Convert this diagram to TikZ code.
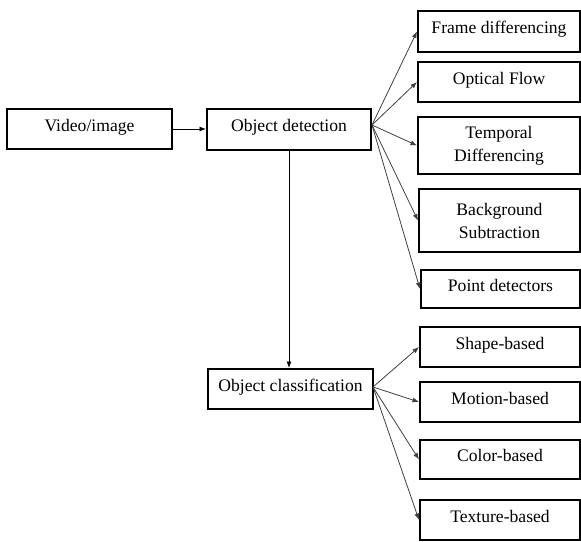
\documentclass[tikz,border=0pt]{standalone}
\usepackage{fontspec}
\setmainfont{Liberation Serif}
\usetikzlibrary{arrows.meta,calc}
\begin{document}
\begin{tikzpicture}[x=1pt,y=-1pt,
  box/.style={draw=black,line width=2pt,inner sep=0pt,align=center,
    font=\fontsize{17.6}{23}\selectfont},
  one/.style={text depth=8pt},
  conn/.style={draw=black!75,line width=0.8pt,-{Latex[length=6.5pt,width=5pt]}}]
\useasboundingbox (0,0) rectangle (581,541);
\node[box,one,minimum width=165pt,minimum height=40pt] (vid) at (89.5,129) {Video/image};
\node[box,one,minimum width=164pt,minimum height=41pt] (det) at (289,129.5) {Object detection};
\node[box,one,minimum width=165pt,minimum height=40pt] (cls) at (290.5,389) {Object classification};
\node[box,one,minimum width=162pt,minimum height=41pt] (fd) at (499,31.5) {Frame differencing};
\node[box,one,minimum width=162pt,minimum height=40pt] (of) at (499,82) {Optical Flow};
\node[box,minimum width=162pt,minimum height=57pt] (td) at (499,145.5) {Temporal\\Differencing};
\node[box,minimum width=161pt,minimum height=63pt] (bs) at (499.5,220.5) {Background\\Subtraction};
\node[box,one,minimum width=159pt,minimum height=38pt] (pd) at (500.5,289) {Point detectors};
\node[box,one,minimum width=160pt,minimum height=40pt] (sb) at (500,347) {Shape-based};
\node[box,one,minimum width=160pt,minimum height=40pt] (mb) at (500,402) {Motion-based};
\node[box,one,minimum width=160pt,minimum height=39pt] (cb) at (500,459.5) {Color-based};
\node[box,one,minimum width=160pt,minimum height=40pt] (tb) at (500,520) {Texture-based};
\coordinate (o1) at (372,125);
\coordinate (o2) at (373,387);
\draw[conn,draw=black] (vid.east) -- (vid.east -| det.west);
\draw[conn,draw=black] (det.south) -- (det.south |- cls.north);
\foreach \t in {fd,of,td,bs,pd} \draw[conn] (o1) -- (\t.west);
\foreach \t in {sb,mb,cb,tb} \draw[conn] (o2) -- (\t.west);
\end{tikzpicture}
\end{document}
